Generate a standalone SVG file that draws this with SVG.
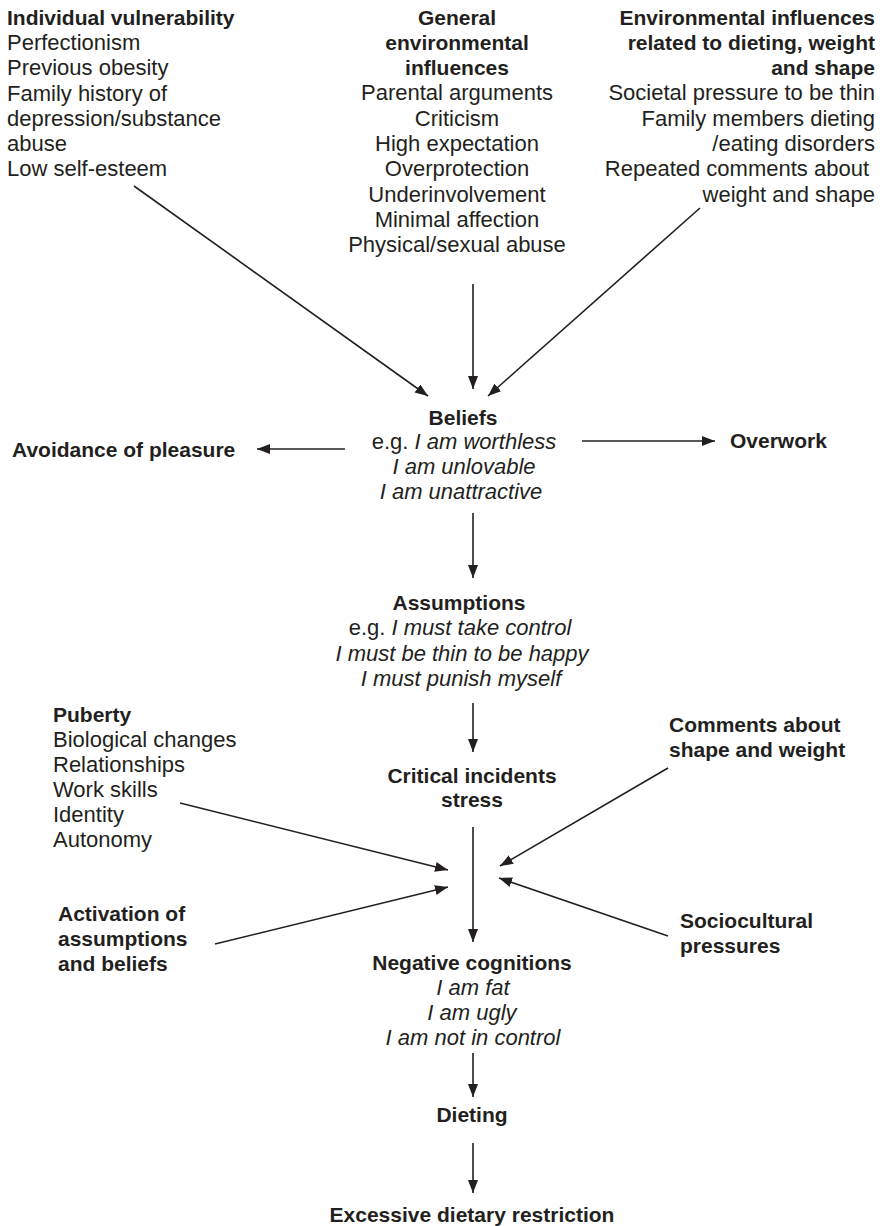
<svg xmlns="http://www.w3.org/2000/svg" width="889" height="1226" viewBox="0 0 889 1226">
  <style>
    text { font-family: "Liberation Sans", Arial, Helvetica, sans-serif; fill: #231f20; }
    .r { font-size: 22px; }
    .b { font-size: 21px; font-weight: bold; }
    .i { font-size: 22px; font-style: italic; }
    .m { text-anchor: middle; }
    .e { text-anchor: end; }
    .link { stroke: #231f20; stroke-width: 1.6; fill: none; marker-end: url(#head); }
  </style>
  <defs>
    <marker id="head" markerUnits="userSpaceOnUse" markerWidth="13" markerHeight="10" refX="13" refY="5" orient="auto">
      <path d="M0,0 L13,5 L0,10 z" fill="#231f20"/>
    </marker>
  </defs>
  <rect width="889" height="1226" fill="#ffffff"/>

  <!-- connectors -->
  <g id="connectors">
    <line class="link" x1="134" y1="186" x2="428" y2="396"/>
    <line class="link" x1="473" y1="284" x2="473" y2="389"/>
    <line class="link" x1="700" y1="208" x2="488" y2="396"/>
    <line class="link" x1="345" y1="449" x2="257" y2="449"/>
    <line class="link" x1="582" y1="441" x2="715" y2="441"/>
    <line class="link" x1="473" y1="513" x2="473" y2="578"/>
    <line class="link" x1="473" y1="703" x2="473" y2="752"/>
    <line class="link" x1="180" y1="803" x2="448" y2="870"/>
    <line class="link" x1="215" y1="944" x2="448" y2="887"/>
    <line class="link" x1="668" y1="768" x2="500" y2="866"/>
    <line class="link" x1="668" y1="936" x2="499" y2="878"/>
    <line class="link" x1="473" y1="827" x2="473" y2="942"/>
    <line class="link" x1="473" y1="1053" x2="473" y2="1097"/>
    <line class="link" x1="473" y1="1143" x2="473" y2="1193"/>
  </g>

  <g id="n-individual">
    <text class="b" x="7" y="25">Individual vulnerability</text>
    <text class="r" x="7" y="50">Perfectionism</text>
    <text class="r" x="7" y="75">Previous obesity</text>
    <text class="r" x="7" y="101">Family history of</text>
    <text class="r" x="7" y="126">depression/substance</text>
    <text class="r" x="7" y="151">abuse</text>
    <text class="r" x="7" y="176">Low self-esteem</text>
  </g>

  <g id="n-general">
    <text class="b m" x="457" y="25">General</text>
    <text class="b m" x="457" y="50">environmental</text>
    <text class="b m" x="457" y="75">influences</text>
    <text class="r m" x="457" y="100">Parental arguments</text>
    <text class="r m" x="457" y="126">Criticism</text>
    <text class="r m" x="457" y="151">High expectation</text>
    <text class="r m" x="457" y="176">Overprotection</text>
    <text class="r m" x="457" y="202">Underinvolvement</text>
    <text class="r m" x="457" y="227">Minimal affection</text>
    <text class="r m" x="457" y="252">Physical/sexual abuse</text>
  </g>

  <g id="n-environmental">
    <text class="b e" x="875" y="25">Environmental influences</text>
    <text class="b e" x="875" y="50">related to dieting, weight</text>
    <text class="b e" x="875" y="75">and shape</text>
    <text class="r e" x="875" y="100">Societal pressure to be thin</text>
    <text class="r e" x="875" y="126">Family members dieting</text>
    <text class="r e" x="875" y="151">/eating disorders</text>
    <text class="r e" x="869" y="176">Repeated comments about</text>
    <text class="r e" x="875" y="202">weight and shape</text>
  </g>

  <g id="n-beliefs">
    <text class="b m" x="463" y="425">Beliefs</text>
    <text class="r m" x="464" y="449">e.g. <tspan class="i">I am worthless</tspan></text>
    <text class="i m" x="464" y="474">I am unlovable</text>
    <text class="i m" x="461" y="499">I am unattractive</text>
  </g>

  <g id="n-avoidance">
    <text class="b" x="12" y="457">Avoidance of pleasure</text>
  </g>

  <g id="n-overwork">
    <text class="b" x="730" y="448">Overwork</text>
  </g>

  <g id="n-assumptions">
    <text class="b m" x="459" y="610">Assumptions</text>
    <text class="r m" x="460" y="635">e.g. <tspan class="i">I must take control</tspan></text>
    <text class="i m" x="462" y="661">I must be thin to be happy</text>
    <text class="i m" x="461" y="686">I must punish myself</text>
  </g>

  <g id="n-puberty">
    <text class="b" x="53" y="722">Puberty</text>
    <text class="r" x="53" y="747">Biological changes</text>
    <text class="r" x="53" y="772">Relationships</text>
    <text class="r" x="53" y="797">Work skills</text>
    <text class="r" x="53" y="822">Identity</text>
    <text class="r" x="53" y="847">Autonomy</text>
  </g>

  <g id="n-critical">
    <text class="b m" x="472" y="783">Critical incidents</text>
    <text class="b m" x="472" y="807">stress</text>
  </g>

  <g id="n-comments">
    <text class="b" x="669" y="732">Comments about</text>
    <text class="b" x="669" y="757">shape and weight</text>
  </g>

  <g id="n-activation">
    <text class="b" x="58" y="921">Activation of</text>
    <text class="b" x="58" y="946">assumptions</text>
    <text class="b" x="58" y="971">and beliefs</text>
  </g>

  <g id="n-sociocultural">
    <text class="b" x="680" y="928">Sociocultural</text>
    <text class="b" x="680" y="953">pressures</text>
  </g>

  <g id="n-negative">
    <text class="b m" x="472" y="970">Negative cognitions</text>
    <text class="i m" x="473" y="995">I am fat</text>
    <text class="i m" x="472" y="1020">I am ugly</text>
    <text class="i m" x="473" y="1045">I am not in control</text>
  </g>

  <g id="n-dieting">
    <text class="b m" x="472" y="1122">Dieting</text>
  </g>

  <g id="n-excessive">
    <text class="b m" x="472" y="1222">Excessive dietary restriction</text>
  </g>
</svg>
